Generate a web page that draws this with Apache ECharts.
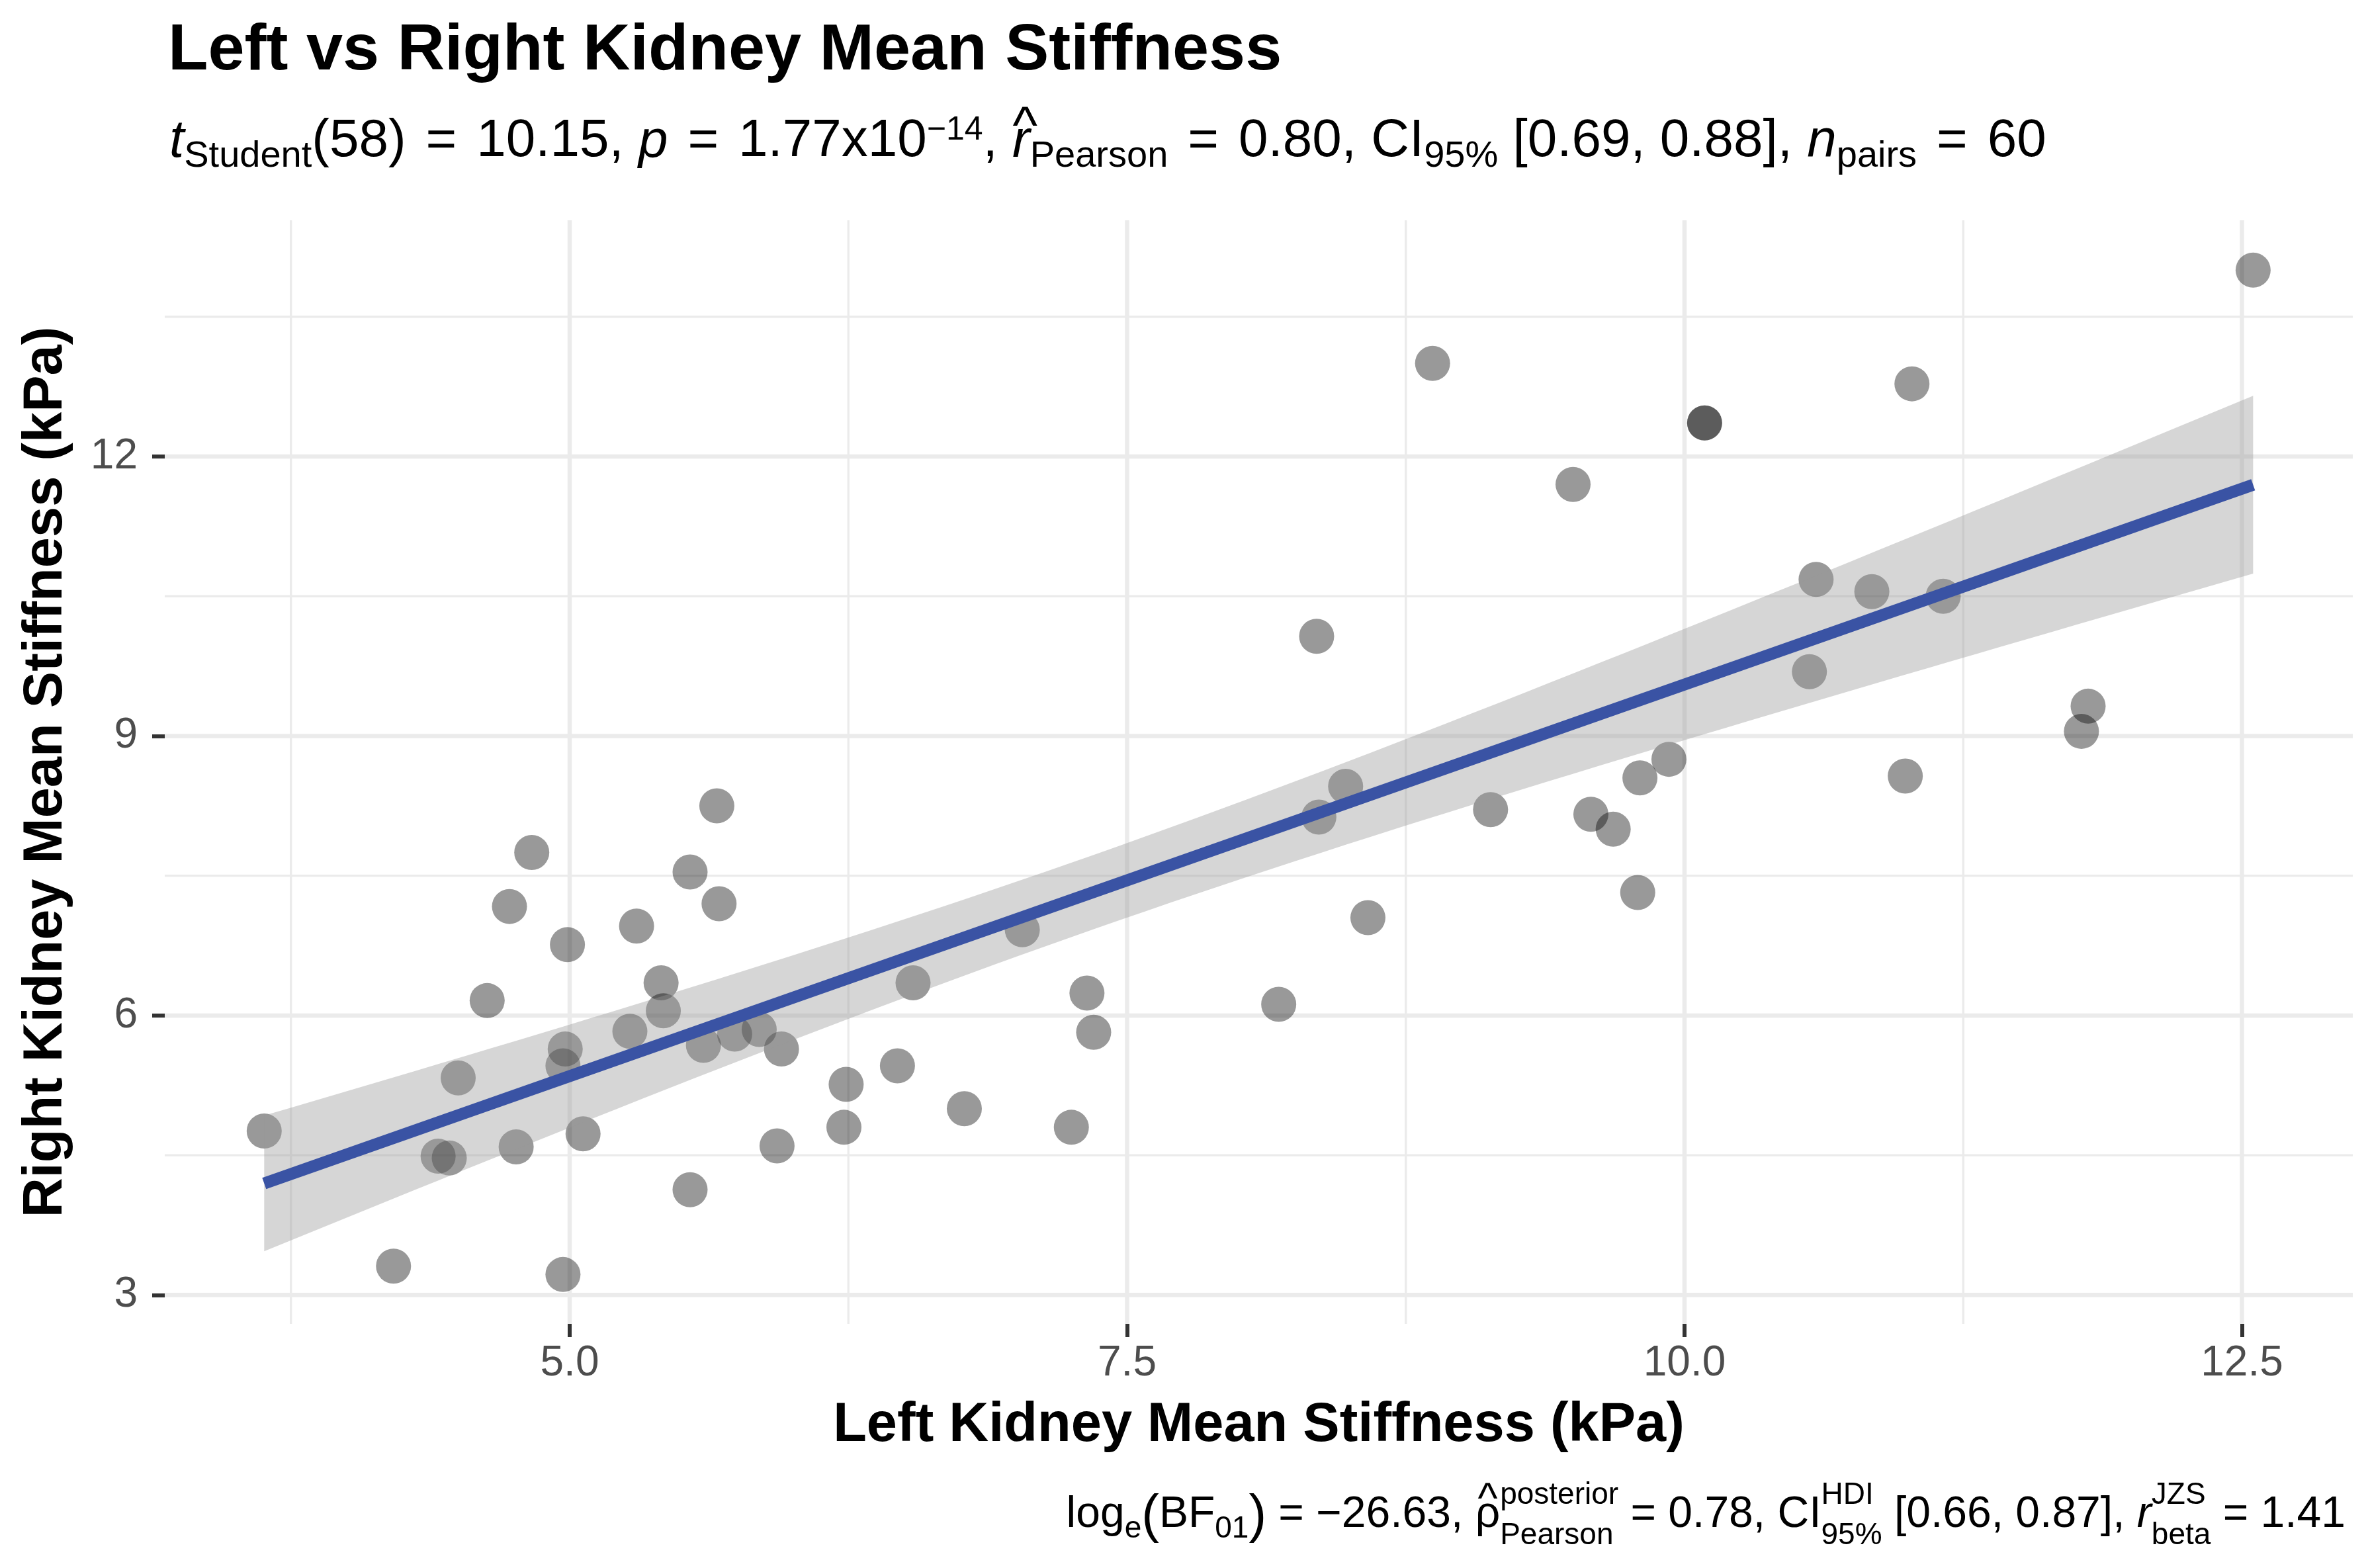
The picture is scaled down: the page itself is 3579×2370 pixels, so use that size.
<!DOCTYPE html>
<html><head><meta charset="utf-8">
<script src="https://cdn.jsdelivr.net/npm/echarts@6/dist/echarts.min.js"></script>
<style>html,body{margin:0;padding:0;background:#fff}#c{width:3579px;height:2370px}</style>
</head><body><div id="c"></div>
<script>
// ---- data ----
const leftStiffness = [3.63, 4.21, 4.41, 4.46, 4.50, 4.63, 4.73, 4.76, 4.83, 4.97, 4.97, 4.98, 4.99, 5.06, 5.27, 5.30, 5.41, 5.42, 5.54, 5.54, 5.60, 5.66, 5.67, 5.74, 5.85, 5.93, 5.95, 6.23, 6.24, 6.47, 6.54, 6.77, 7.03, 7.25, 7.32, 7.35, 8.18, 8.35, 8.36, 8.48, 8.58, 8.87, 9.13, 9.50, 9.58, 9.68, 9.79, 9.80, 9.93, 10.09, 10.09, 10.56, 10.59, 10.84, 10.99, 11.02, 11.16, 11.78, 11.81, 12.55];
const rightStiffness = [4.76, 3.31, 4.49, 4.47, 5.33, 6.16, 7.17, 4.59, 7.75, 3.22, 5.46, 5.64, 6.76, 4.73, 5.83, 6.96, 6.35, 6.05, 7.54, 4.13, 5.68, 8.25, 7.20, 5.80, 5.85, 4.60, 5.64, 4.80, 5.26, 5.46, 6.35, 5.00, 6.92, 4.80, 6.24, 5.82, 6.12, 10.07, 8.13, 8.46, 7.05, 13.00, 8.21, 11.70, 8.16, 8.00, 7.32, 8.55, 8.75, 12.36, 12.36, 9.69, 10.68, 10.55, 8.57, 12.78, 10.50, 9.05, 9.32, 14.00];
const xTicks = [5, 7.5, 10, 12.5];
const xTickLabels = ['5.0', '7.5', '10.0', '12.5'];
const xMinorGrid = [3.75, 6.25, 8.75, 11.25];
const yTicks = [3, 6, 9, 12];
const yTickLabels = ['3', '6', '9', '12'];
const yMinorGrid = [4.5, 7.5, 10.5, 13.5];
const xRange = [3.184, 12.997];
const yRange = [2.69, 14.535];

const FONT = '"Liberation Sans", Arial, Helvetica, sans-serif';

// ---- linear fit with 95% confidence band (as geom_smooth(method = "lm")) ----
const n = leftStiffness.length;
const mx = leftStiffness.reduce((a, b) => a + b, 0) / n;
const my = rightStiffness.reduce((a, b) => a + b, 0) / n;
let sxx = 0, sxy = 0;
for (let i = 0; i < n; i++) { sxx += (leftStiffness[i] - mx) ** 2; sxy += (leftStiffness[i] - mx) * (rightStiffness[i] - my); }
const slope = sxy / sxx, icept = my - slope * mx;
let sse = 0;
for (let i = 0; i < n; i++) sse += (rightStiffness[i] - icept - slope * leftStiffness[i]) ** 2;
const sres = Math.sqrt(sse / (n - 2));
const tq = 2.0017;
const xLo = Math.min(...leftStiffness), xHi = Math.max(...leftStiffness);
const bandUpper = [], bandLower = [];
for (let k = 0; k < 80; k++) {
  const x = xLo + (xHi - xLo) * k / 79;
  const f = icept + slope * x;
  const h = tq * sres * Math.sqrt(1 / n + (x - mx) ** 2 / sxx);
  bandUpper.push([x, f + h]); bandLower.push([x, f - h]);
}
const fitLine = [[xLo, icept + slope * xLo], [xHi, icept + slope * xHi]];

// ---- text layout helpers (sub/superscripts) ----
const mctx = document.createElement('canvas').getContext('2d');
function fstr(p) { return (p.it ? 'italic ' : 'normal ') + (p.bold ? 'bold ' : 'normal ') + p.s + 'px ' + FONT; }
function mw(p) { mctx.font = fstr(p); return mctx.measureText(p.t).width; }
function tEl(p, x, base, align) {
  return { type: 'text', silent: true, z: 100, x: x, y: base + (p.dy || 0) - 0.3465 * p.s,
    style: { text: p.t, fontSize: p.s, fontFamily: FONT, fontStyle: p.it ? 'italic' : 'normal',
      fontWeight: p.bold ? 'bold' : 'normal', fill: '#000', align: align || 'left', verticalAlign: 'middle' } };
}
function layout(pieces, x0, base, right) {
  let total = 0;
  pieces.forEach(p => {
    if (p.over) return;
    if (p.stack) { p.w = Math.max(mw(p.sup), mw(p.sub)); }
    else p.w = mw(p) + (p.padL || 0) + (p.padR || 0);
    total += p.w;
  });
  let x = right ? x0 - total : x0;
  const out = []; let prev = null;
  pieces.forEach(p => {
    if (p.over) { out.push(tEl(p.over, prev.x + prev.w / 2 + (p.over.dx || 0), base, 'center')); return; }
    if (p.stack) { out.push(tEl(p.sup, x, base)); out.push(tEl(p.sub, x, base)); }
    else out.push(tEl(p, x + (p.padL || 0), base));
    prev = { x: x, w: p.w }; x += p.w;
  });
  return out;
}

const S = 80, s1 = 56, s2 = 50;
const EQ = { t: '=', s: S, padL: 30, padR: 30 };
const subtitle = [
  { t: 't', s: S, it: true }, { t: 'Student', s: s1, dy: 14 }, { t: '(58)', s: S }, EQ, { t: '10.15, ', s: S },
  { t: 'p', s: S, it: true }, EQ, { t: '1.77x10', s: S }, { t: '\u221214', s: s2, dy: -27 }, { t: ', ', s: S },
  { t: 'r', s: S, it: true }, { over: { t: '^', s: 80, dy: -20, dx: 6 } }, { t: 'Pearson', s: s1, dy: 14 },
  EQ, { t: '0.80, CI', s: S }, { t: '95%', s: s1, dy: 14 }, { t: ' [0.69, 0.88], ', s: S },
  { t: 'n', s: S, it: true }, { t: 'pairs', s: s1, dy: 14 }, EQ, { t: '60', s: S }
];
const C = 66, c1 = 46;
const caption = [
  { t: 'log', s: C }, { t: 'e', s: c1, dy: 14 }, { t: '(', s: 80, dy: 8 }, { t: 'BF', s: C }, { t: '01', s: c1, dy: 14 },
  { t: ')', s: 80, dy: 8 }, { t: ' = \u221226.63, ', s: C }, { t: '\u03c1', s: C }, { over: { t: '^', s: 64, dy: -22 } },
  { stack: true, sup: { t: 'posterior', s: c1, dy: -37 }, sub: { t: 'Pearson', s: c1, dy: 24 } },
  { t: ' = 0.78, CI', s: C }, { stack: true, sup: { t: 'HDI', s: c1, dy: -37 }, sub: { t: '95%', s: c1, dy: 24 } },
  { t: ' [0.66, 0.87], ', s: C }, { t: 'r', s: C, it: true },
  { stack: true, sup: { t: 'JZS', s: c1, dy: -37 }, sub: { t: 'beta', s: c1, dy: 24 } }, { t: ' = 1.41', s: C }
];

const graphics = [tEl({ t: 'Left vs Right Kidney Mean Stiffness', s: 99, bold: true }, 254, 112)]
  .concat(layout(subtitle, 256, 242, false))
  .concat(layout(caption, 3545, 2313, true));

// ---- chart ----
const chart = echarts.init(document.getElementById('c'), null, { renderer: 'canvas' });
const vGrid = xTicks.map(v => [v, yRange[0], 1]).concat(xMinorGrid.map(v => [v, yRange[0], 0]));
const hGrid = yTicks.map(v => [xRange[0], v, 1]).concat(yMinorGrid.map(v => [xRange[0], v, 0]));
function lbl(ticks, labels) { return v => { const i = ticks.findIndex(t => Math.abs(t - v) < 1e-9); return i >= 0 ? labels[i] : ''; }; }

chart.setOption({
  animation: false,
  backgroundColor: '#ffffff',
  grid: { left: 249, right: 23, top: 333, bottom: 369 },
  xAxis: {
    type: 'value', min: xRange[0], max: xRange[1],
    splitLine: { show: false },
    axisLine: { show: false, onZero: false },
    axisTick: { show: true, customValues: xTicks, length: 20, lineStyle: { color: '#333333', width: 6 } },
    axisLabel: { customValues: xTicks, formatter: lbl(xTicks, xTickLabels), margin: 28, fontSize: 64, color: '#4D4D4D', fontFamily: FONT },
    name: 'Left Kidney Mean Stiffness (kPa)', nameLocation: 'middle', nameGap: 113,
    nameTextStyle: { fontSize: 83, fontWeight: 'bold', color: '#000', fontFamily: FONT }
  },
  yAxis: {
    type: 'value', min: yRange[0], max: yRange[1],
    splitLine: { show: false },
    axisLine: { show: false, onZero: false },
    axisTick: { show: true, customValues: yTicks, length: 19, lineStyle: { color: '#333333', width: 6 } },
    axisLabel: { customValues: yTicks, formatter: lbl(yTicks, yTickLabels), margin: 41, fontSize: 64, color: '#4D4D4D', fontFamily: FONT },
    name: 'Right Kidney Mean Stiffness (kPa)', nameLocation: 'middle', nameGap: 137, nameRotate: 90,
    nameTextStyle: { fontSize: 83, fontWeight: 'bold', color: '#000', fontFamily: FONT }
  },
  graphic: graphics,
  series: [
    { type: 'custom', silent: true, z: 1, clip: false, data: vGrid, encode: { x: 0, y: 1 },
      renderItem: (params, api) => {
        const cs = params.coordSys; const x = api.coord([api.value(0), api.value(1)])[0];
        return { type: 'line', shape: { x1: x, y1: cs.y, x2: x, y2: cs.y + cs.height },
          style: { stroke: '#EBEBEB', lineWidth: api.value(2) ? 6.5 : 3.3 } };
      } },
    { type: 'custom', silent: true, z: 1, clip: false, data: hGrid, encode: { x: 0, y: 1 },
      renderItem: (params, api) => {
        const cs = params.coordSys; const y = api.coord([api.value(0), api.value(1)])[1];
        return { type: 'line', shape: { x1: cs.x, y1: y, x2: cs.x + cs.width, y2: y },
          style: { stroke: '#EBEBEB', lineWidth: api.value(2) ? 6.5 : 3.3 } };
      } },
    { type: 'scatter', silent: true, z: 3, symbol: 'circle', symbolSize: 53,
      data: leftStiffness.map((x, i) => [x, rightStiffness[i]]),
      itemStyle: { color: 'rgba(0,0,0,0.5)' } },
    { type: 'custom', silent: true, z: 4, data: bandUpper.map((p, i) => [p[0], p[1], bandLower[i][1]]), encode: { x: 0, y: [1, 2] },
      renderItem: (params, api) => {
        if (params.dataIndex !== 0) return null;
        const pts = bandUpper.map(p => api.coord(p)).concat(bandLower.slice().reverse().map(p => api.coord(p)));
        return { type: 'polygon', shape: { points: pts }, style: { fill: 'rgba(153,153,153,0.4)', stroke: null } };
      } },
    { type: 'line', silent: true, z: 5, data: fitLine, showSymbol: false, symbol: 'none',
      lineStyle: { color: '#3A53A4', width: 18, cap: 'butt' } }
  ]
});
</script>
</body></html>
